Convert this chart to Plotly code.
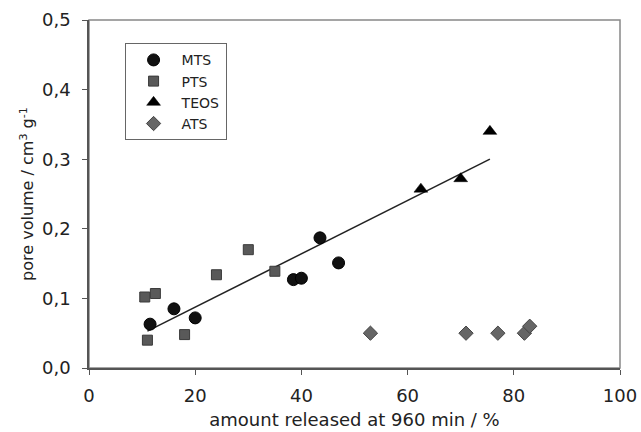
import plotly.graph_objects as go

mts_x = [11.5, 16, 20, 38.5, 40, 43.5, 47]
mts_y = [0.063, 0.085, 0.072, 0.127, 0.129, 0.187, 0.151]
pts_x = [10.5, 12.5, 11, 18, 24, 30, 35]
pts_y = [0.102, 0.107, 0.040, 0.048, 0.134, 0.170, 0.139]
teos_x = [62.5, 70, 75.5]
teos_y = [0.257, 0.272, 0.340]
ats_x = [53, 71, 77, 82, 83]
ats_y = [0.050, 0.050, 0.050, 0.050, 0.060]
fit_x = [11, 75.5]
fit_y = [0.053, 0.300]

x_ticks = [0, 20, 40, 60, 80, 100]
y_ticks = [0.0, 0.1, 0.2, 0.3, 0.4, 0.5]

font = "DejaVu Sans, Verdana, sans-serif"

fig = go.Figure()
fig.add_trace(go.Scatter(x=fit_x, y=fit_y, mode="lines", line=dict(color="#222", width=1.5),
                         showlegend=False, hoverinfo="skip"))
fig.add_trace(go.Scatter(x=mts_x, y=mts_y, mode="markers", name="MTS",
                         marker=dict(symbol="circle", size=12, color="#111",
                                     line=dict(color="#000", width=1))))
fig.add_trace(go.Scatter(x=pts_x, y=pts_y, mode="markers", name="PTS",
                         marker=dict(symbol="square", size=10, color="#595959",
                                     line=dict(color="#3a3a3a", width=1))))
fig.add_trace(go.Scatter(x=teos_x, y=teos_y, mode="markers", name="TEOS",
                         marker=dict(symbol="triangle-up", size=12, color="#000",
                                     line=dict(color="#000", width=0.5))))
fig.add_trace(go.Scatter(x=ats_x, y=ats_y, mode="markers", name="ATS",
                         marker=dict(symbol="diamond", size=11, color="#666",
                                     line=dict(color="#444", width=1))))

fig.update_layout(
    width=641, height=432,
    margin=dict(l=89, r=21, t=20, b=64),
    paper_bgcolor="white", plot_bgcolor="white",
    separators=", ",
    font=dict(family=font, color="#222"),
    showlegend=True,
    legend=dict(x=0.067, y=0.933, xanchor="left", yanchor="top",
                bgcolor="white", bordercolor="#666", borderwidth=1,
                font=dict(size=14, family=font, color="#222"),
                itemwidth=46, tracegroupgap=0),
    xaxis=dict(range=[0, 100], tickvals=x_ticks, ticks="outside", ticklen=5,
               tickcolor="#555", showline=True, linecolor="#555", linewidth=1.5,
               mirror=False, showgrid=False, zeroline=False, ticklabelstandoff=6,
               automargin=False,
               tickfont=dict(size=18, color="#222"),
               title=dict(text="amount released at 960 min / %", font=dict(size=18, color="#222"),
                          standoff=8)),
    yaxis=dict(range=[0, 0.5], tickvals=y_ticks, tickformat=".1f", ticks="outside", ticklen=5,
               tickcolor="#555", showline=True, linecolor="#555", linewidth=1.5,
               showgrid=False, zeroline=False, ticklabelstandoff=8,
               automargin=False,
               tickfont=dict(size=18, color="#222"),
               title=dict(text="pore volume / cm<sup>3</sup> g<sup>-1</sup>",
                          font=dict(size=16, color="#222"), standoff=4)),
)
# plot-area frame (top and right)
fig.add_shape(type="rect", xref="paper", yref="paper", x0=0, y0=0, x1=1, y1=1,
              line=dict(color="#888", width=1.5), layer="below")

fig.write_html("out.html")
